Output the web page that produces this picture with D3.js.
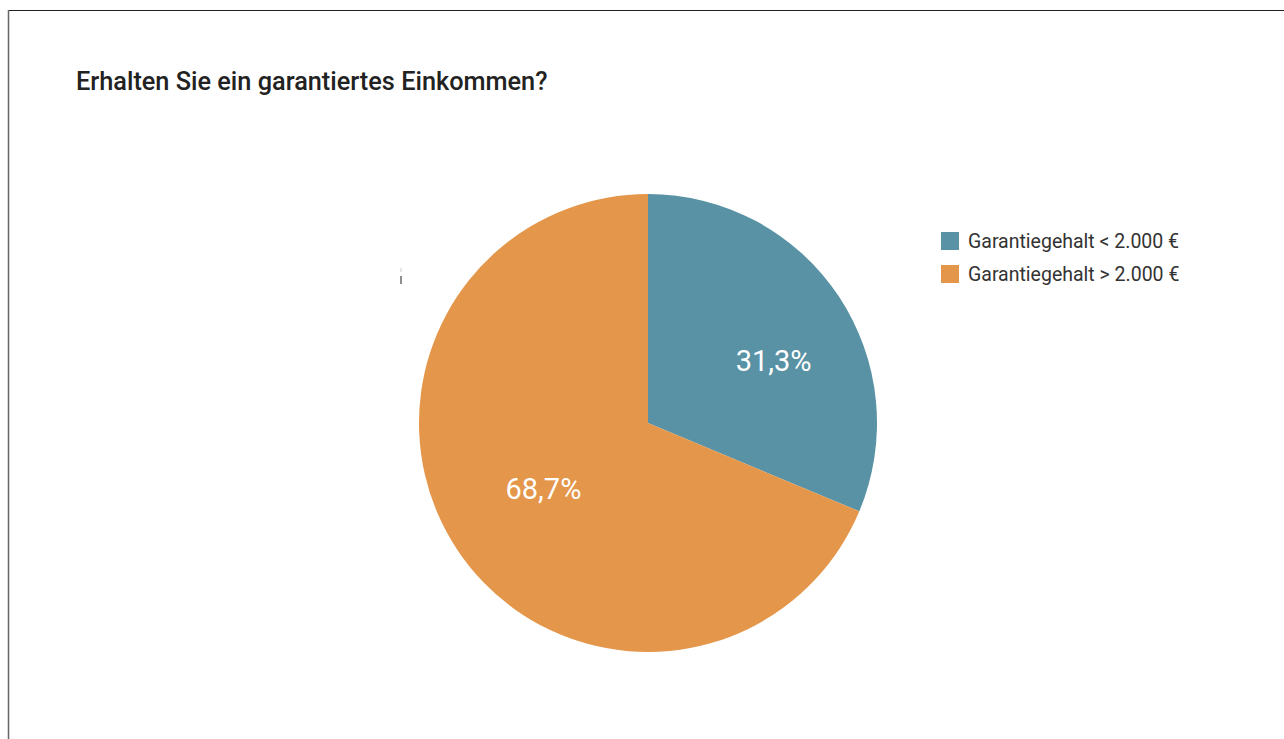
<!DOCTYPE html>
<html>
<head>
<meta charset="utf-8">
<script src="https://cdn.jsdelivr.net/npm/d3@7"></script>
<style>
  html, body { margin: 0; padding: 0; background: #fff; }
  svg { display: block; font-family: Roboto, "Noto Sans", sans-serif; }
</style>
</head>
<body>
<svg id="chart" width="1284" height="739"></svg>
<script>
// Survey result: guaranteed income share
const title = "Erhalten Sie ein garantiertes Einkommen?";
const categories = ["Garantiegehalt < 2.000 €", "Garantiegehalt > 2.000 €"];
const values = [31.3, 68.7];
const colors = ["#5892a4", "#e4964a"];

const W = 1284, H = 739;
const svg = d3.select("#chart");

// frame lines (top and left)
svg.append("line").attr("x1", 8).attr("x2", W).attr("y1", 10.5).attr("y2", 10.5)
  .attr("stroke", "#222").attr("stroke-width", 1.2);
svg.append("line").attr("x1", 8.5).attr("x2", 8.5).attr("y1", 10).attr("y2", H)
  .attr("stroke", "#666").attr("stroke-width", 1.5);

svg.append("text")
  .attr("x", 76).attr("y", 90)
  .attr("font-size", 25.3).attr("font-weight", 500).attr("fill", "#222")
  .text(title);

const cx = 648, cy = 423, R = 229;
const data = categories.map((c, i) => ({ cat: c, value: values[i], color: colors[i] }));

const pie = d3.pie().value(d => d.value).sort(null);
const arc = d3.arc().innerRadius(0).outerRadius(R);
const labelArc = d3.arc().innerRadius(R * 0.58).outerRadius(R * 0.58);
// per-slice fine adjustment of the percentage labels
const labelNudge = [[15, 11], [6, -8]];

const g = svg.append("g").attr("transform", `translate(${cx},${cy})`);
const arcs = pie(data);

g.selectAll("path").data(arcs).join("path")
  .attr("d", arc)
  .attr("fill", d => d.data.color);

const fmt = v => v.toFixed(1).replace(".", ",") + "%";
g.selectAll("text.pct").data(arcs).join("text")
  .attr("class", "pct")
  .attr("transform", (d, i) => {
    const [x, y] = labelArc.centroid(d);
    return `translate(${x + labelNudge[i][0]},${y + labelNudge[i][1]})`;
  })
  .attr("text-anchor", "middle")
  .attr("dy", "0.36em")
  .attr("font-size", 29)
  .attr("fill", "#fff")
  .text(d => fmt(d.data.value));

// legend
const legend = svg.append("g").attr("transform", "translate(941,232)");
const items = legend.selectAll("g").data(data).join("g")
  .attr("transform", (d, i) => `translate(0,${i * 33})`);
items.append("rect").attr("width", 18).attr("height", 18).attr("fill", d => d.color);
items.append("text")
  .attr("x", 27).attr("y", 9).attr("dy", "0.36em")
  .attr("font-size", 19.5).attr("fill", "#333")
  .text(d => d.cat);

// small stray tick mark left of the pie
svg.append("line").attr("x1", 401).attr("x2", 401).attr("y1", 276).attr("y2", 284)
  .attr("stroke", "#444").attr("stroke-width", 1.2);
svg.append("line").attr("x1", 401).attr("x2", 401).attr("y1", 268).attr("y2", 272)
  .attr("stroke", "#ccc").attr("stroke-width", 1);
</script>
</body>
</html>
